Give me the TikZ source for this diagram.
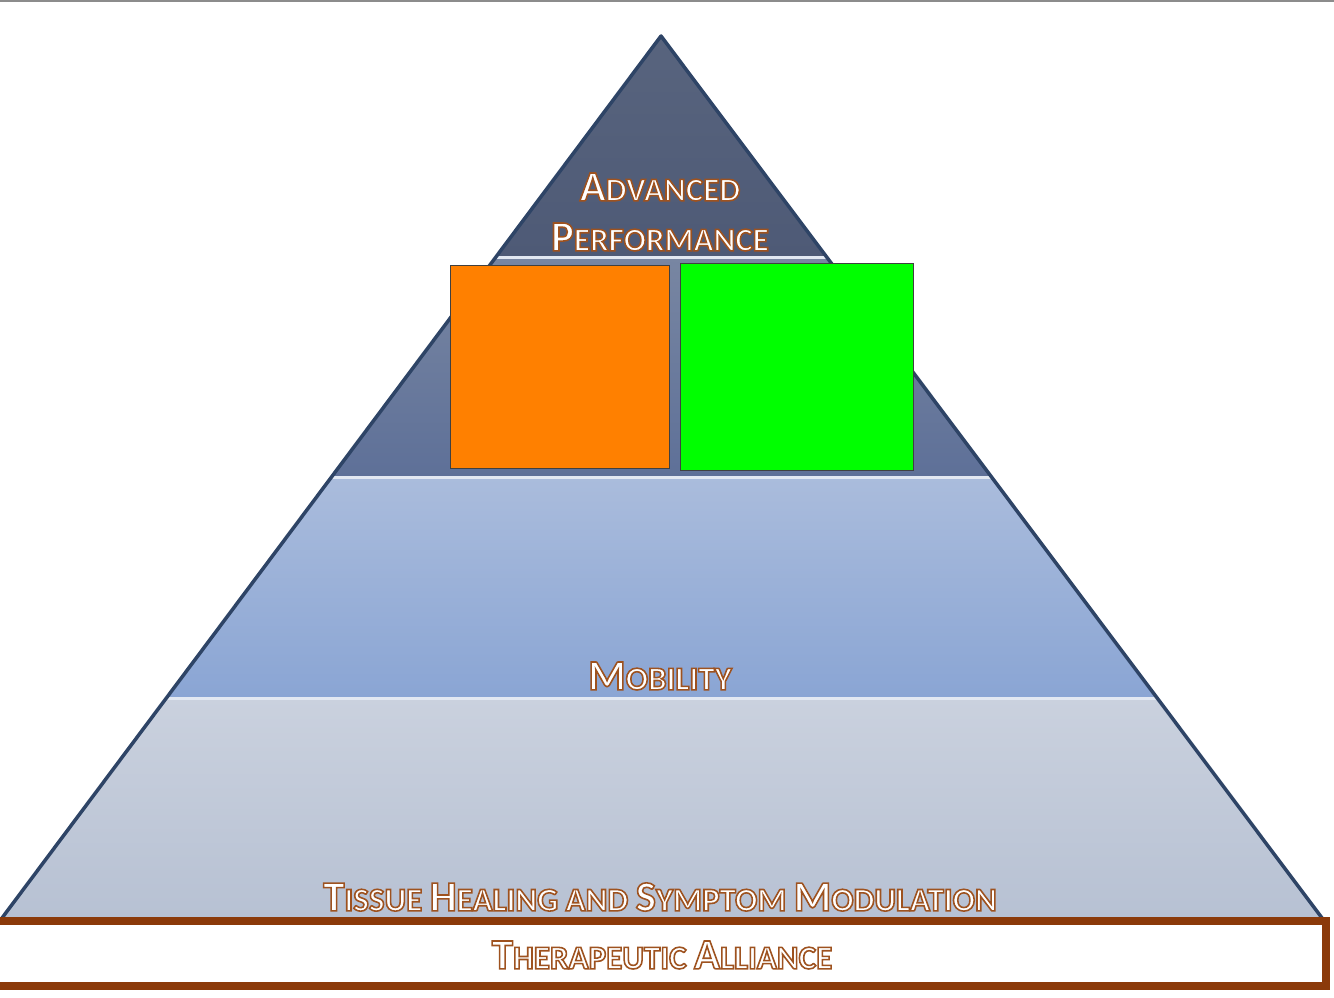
\documentclass[tikz,border=0pt]{standalone}
\usepackage{fontspec}
\setmainfont{Carlito}
\usetikzlibrary{positioning}
\definecolor{barbrown}{RGB}{139,58,10}
\definecolor{edgenavy}{RGB}{46,68,102}
\definecolor{topgray}{RGB}{140,140,140}
\definecolor{lvlAtop}{RGB}{88,100,126}
\definecolor{lvlAbot}{RGB}{78,90,118}
\definecolor{lvlBtop}{RGB}{120,134,162}
\definecolor{lvlBbot}{RGB}{94,112,152}
\definecolor{lvlCtop}{RGB}{170,188,220}
\definecolor{lvlCbot}{RGB}{138,165,212}
\definecolor{lvlDtop}{RGB}{202,209,222}
\definecolor{lvlDbot}{RGB}{183,193,211}
\definecolor{seplight}{RGB}{226,232,242}
\definecolor{boxorange}{RGB}{255,128,0}
\definecolor{boxgreen}{RGB}{0,255,0}
% white letters with a brown outline
\newcommand{\glowtext}[1]{\special{pdf:literal direct 0.62 0.32 0.12 RG 0.45 w 2 Tr}#1\special{pdf:literal direct 0 Tr}}
\newcommand{\smc}[2]{{\fontsize{12.2}{14}\selectfont #1}{\fontsize{9.4}{11}\selectfont #2}}
\tikzset{
  level/.style={shading=axis, shading angle=0},
  sepline/.style={draw=seplight, line width=0.03cm},
  edgeline/.style={draw=edgenavy, line width=0.035cm, line join=round},
  coverbox/.style={draw=black!75, line width=0.01cm},
  layertext/.style={text=white, inner sep=0pt, font=\bfseries\fontsize{9.4}{11}\selectfont},
  alliancebar/.style={draw=barbrown, line width=0.08cm, fill=white}
}
\begin{document}
\begin{tikzpicture}[x=0.01cm, y=-0.01cm]
  \useasboundingbox (0,0) rectangle (1334,997);
  \draw[topgray, line width=0.025cm] (0,1) -- (1334,1);

  % pyramid corners and level boundaries
  \coordinate (apex) at (661,36);
  \coordinate (l1) at (496,257);   \coordinate (r1) at (826,257);
  \coordinate (l2) at (332,477);   \coordinate (r2) at (991,477);
  \coordinate (l3) at (167,698);   \coordinate (r3) at (1157,698);
  \coordinate (bl) at (2,918);     \coordinate (br) at (1322,918);

  \fill[level, top color=lvlAtop, bottom color=lvlAbot] (apex) -- (r1) -- (l1) -- cycle;
  \fill[level, top color=lvlBtop, bottom color=lvlBbot] (l1) -- (r1) -- (r2) -- (l2) -- cycle;
  \fill[level, top color=lvlCtop, bottom color=lvlCbot] (l2) -- (r2) -- (r3) -- (l3) -- cycle;
  \fill[level, top color=lvlDtop, bottom color=lvlDbot] (l3) -- (r3) -- (br) -- (bl) -- cycle;
  \foreach \a/\b in {l1/r1,l2/r2,l3/r3}
    \draw[sepline] (\a) -- (\b);
  \draw[edgeline] (bl) -- (apex) -- (br);

  % layer labels
  \node[layertext] (adv) at (660,187) {\glowtext{\smc{A}{DVANCED}}};
  \node[layertext] (perf) at (660,237) {\glowtext{\smc{P}{ERFORMANCE}}};
  \node[layertext] (mob) at (660,676) {\glowtext{\smc{M}{OBILITY}}};
  \node[layertext] (tissue) at (660,897) {\glowtext{\smc{T}{ISSUE} \smc{H}{EALING} AND \smc{S}{YMPTOM} \smc{M}{ODULATION}}};

  % boxes over the second level
  \node[coverbox, fill=boxorange, minimum width=2.19cm, minimum height=2.03cm, inner sep=0pt, anchor=north west] (orange) at (450,265) {};
  \node[coverbox, fill=boxgreen, minimum width=2.33cm, minimum height=2.07cm, inner sep=0pt, anchor=north west] (green) at (680,263) {};

  % base bar
  \draw[alliancebar] (-10,921) rectangle (1326,986);
  \node[layertext] (alliance) at (662,955) {\glowtext{\smc{T}{HERAPEUTIC} \smc{A}{LLIANCE}}};
\end{tikzpicture}
\end{document}
